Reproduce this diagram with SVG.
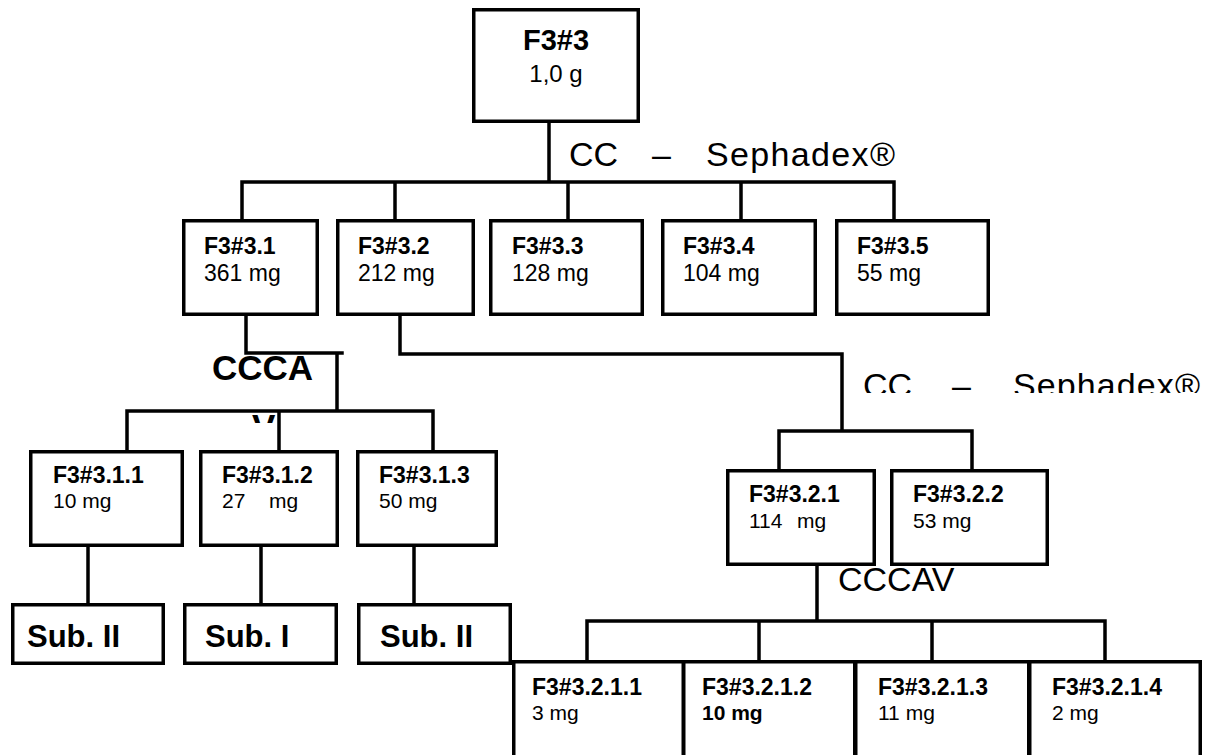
<svg xmlns="http://www.w3.org/2000/svg" width="1212" height="755" viewBox="0 0 1212 755">
<style>
.box{fill:#fff;stroke:#000;stroke-width:3.5}
.c{fill:none;stroke:#000;stroke-width:3.5;stroke-linecap:square}
text{font-family:"Liberation Sans",Arial,sans-serif;fill:#000}
.lb{font-weight:bold;font-size:23px}
.v2{font-size:23px}
.v3{font-size:21px}
.big{font-size:34px}
.sub{font-weight:bold;font-size:31px}
</style>
<defs>
<clipPath id="clipV"><rect x="200" y="413" width="120" height="10"/></clipPath>
<clipPath id="clipS"><rect x="850" y="340" width="362" height="53"/></clipPath>
</defs>
<rect width="1212" height="755" fill="#fff"/>
<g id="connectors">
<path class="c" d="M549 123V182M242 182H894M242 182V219M395 182V219M568 182V219M741 182V219M894 182V219"/>
<path class="c" d="M246 316V353H342M337 353V411M127 411H433M127 411V450M279 411V450M433 411V450"/>
<path class="c" d="M88 547V603M261 547V603M414 547V603"/>
<path class="c" d="M400 316V354H842V431M779 431H972M779 431V469M972 431V469"/>
<path class="c" d="M817 566V621M587 621H1105M587 621V660M759 621V660M932 621V660M1105 621V660"/>
</g>
<g id="labels-edges">
<text class="big" y="166"><tspan x="569">CC</tspan><tspan x="652">–</tspan><tspan x="706" textLength="189" lengthAdjust="spacing">Sephadex®</tspan></text>
<text style="font-weight:bold;font-size:35px" x="212" y="380">CCCA</text>
<text clip-path="url(#clipV)" style="font-weight:bold;font-size:35px" x="252" y="439">V</text>
<text clip-path="url(#clipS)" class="big" y="397"><tspan x="863">CC</tspan><tspan x="952">–</tspan><tspan x="1013" textLength="187" lengthAdjust="spacing">Sephadex®</tspan></text>
</g>
<g id="n0"><rect class="box" x="473.75" y="9.75" width="164.5" height="111.5"/><text x="556" y="50" text-anchor="middle" style="font-weight:bold;font-size:29px">F3#3</text><text x="556" y="82" text-anchor="middle" style="font-size:24px">1,0 g</text></g>
<g id="n1"><rect class="box" x="183.75" y="220.75" width="133.5" height="93.5"/><text class="lb" x="204" y="254">F3#3.1</text><text class="v2" x="204" y="281">361 mg</text></g>
<g id="n2"><rect class="box" x="337.75" y="220.75" width="135.5" height="93.5"/><text class="lb" x="358" y="254">F3#3.2</text><text class="v2" x="358" y="281">212 mg</text></g>
<g id="n3"><rect class="box" x="490.75" y="220.75" width="151.5" height="93.5"/><text class="lb" x="512" y="254">F3#3.3</text><text class="v2" x="512" y="281">128 mg</text></g>
<g id="n4"><rect class="box" x="662.75" y="220.75" width="152.5" height="93.5"/><text class="lb" x="683" y="254">F3#3.4</text><text class="v2" x="683" y="281">104 mg</text></g>
<g id="n5"><rect class="box" x="836.75" y="220.75" width="151.5" height="93.5"/><text class="lb" x="857" y="254">F3#3.5</text><text class="v2" x="857" y="281">55 mg</text></g>
<g id="n11"><rect class="box" x="30.75" y="451.75" width="151.5" height="93.5"/><text class="lb" x="53" y="483">F3#3.1.1</text><text class="v3" x="53" y="508">10 mg</text></g>
<g id="n12"><rect class="box" x="200.75" y="451.75" width="136.5" height="93.5"/><text class="lb" x="222" y="483">F3#3.1.2</text><text class="v3" y="508"><tspan x="222">27</tspan><tspan x="269">mg</tspan></text></g>
<g id="n13"><rect class="box" x="357.75" y="451.75" width="138.5" height="93.5"/><text class="lb" x="379" y="483">F3#3.1.3</text><text class="v3" x="379" y="508">50 mg</text></g>
<g id="s1"><rect class="box" x="12.75" y="604.75" width="150.5" height="58.5"/><text class="sub" x="27" y="647">Sub. II</text></g>
<g id="s2"><rect class="box" x="184.75" y="604.75" width="151.5" height="58.5"/><text class="sub" x="205" y="647">Sub. I</text></g>
<g id="s3"><rect class="box" x="358.75" y="604.75" width="151.5" height="58.5"/><text class="sub" x="380" y="647">Sub. II</text></g>
<g id="n21"><rect class="box" x="727.75" y="470.75" width="146.5" height="93.5"/><text class="lb" x="749" y="502">F3#3.2.1</text><text class="v3" y="528"><tspan x="749">114</tspan><tspan x="797">mg</tspan></text></g>
<g id="n22"><rect class="box" x="891.75" y="470.75" width="155.5" height="93.5"/><text class="lb" x="913" y="502">F3#3.2.2</text><text class="v3" x="913" y="528">53 mg</text></g>
<g id="n211"><rect class="box" x="513.75" y="661.75" width="169.5" height="110"/><text class="lb" x="532" y="695">F3#3.2.1.1</text><text class="v3" x="532" y="720">3 mg</text></g>
<g id="n212"><rect class="box" x="683.75" y="661.75" width="171" height="110"/><text class="lb" x="702" y="695">F3#3.2.1.2</text><text class="v3" x="702" y="720" font-weight="bold">10 mg</text></g>
<g id="n213"><rect class="box" x="855.75" y="661.75" width="173" height="110"/><text class="lb" x="878" y="695">F3#3.2.1.3</text><text class="v3" x="878" y="720">11 mg</text></g>
<g id="n214"><rect class="box" x="1029.75" y="661.75" width="170.5" height="110"/><text class="lb" x="1052" y="695">F3#3.2.1.4</text><text class="v3" x="1052" y="720">2 mg</text></g>
<text class="big" x="838" y="591">CCCAV</text>
</svg>
